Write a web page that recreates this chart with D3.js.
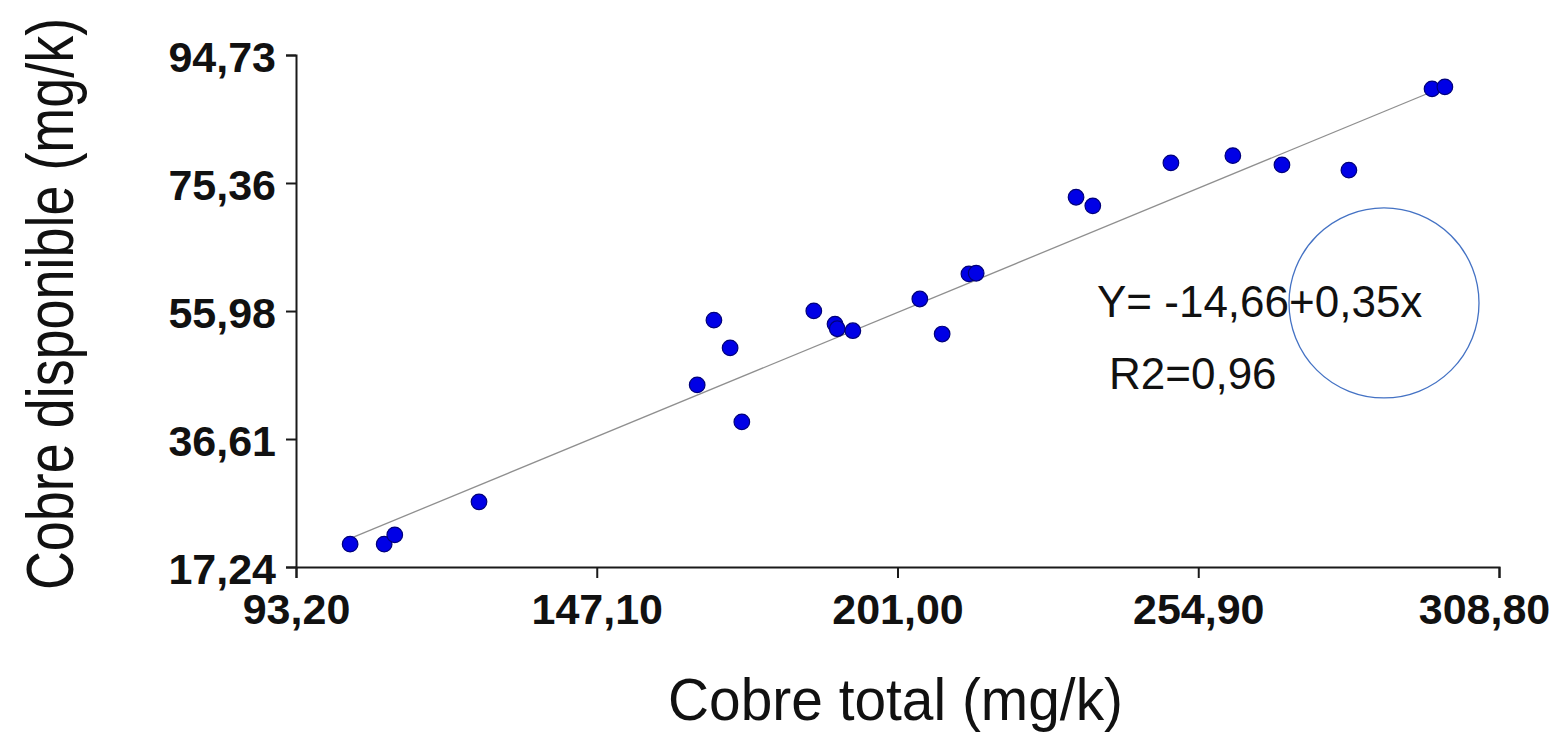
<!DOCTYPE html>
<html>
<head>
<meta charset="utf-8">
<script src="https://cdn.jsdelivr.net/npm/d3@7"></script>
<style>
  html, body { margin: 0; padding: 0; background: #fff; }
  svg { display: block; font-family: "Liberation Sans", Arial, Helvetica, sans-serif; }
</style>
</head>
<body>
<svg id="chart" width="1563" height="735"></svg>
<script>
// ---- data ----
const cobreTotal = [102.9, 109.0, 110.9, 126.0, 165.1, 168.1, 171.0, 173.1, 186.0, 189.8, 190.2, 193.0,
                    205.0, 209.0, 213.8, 215.1, 233.0, 236.0, 250.0, 261.1, 269.9, 281.9, 296.8, 299.1];
const cobreDisponible = [20.7, 20.7, 22.1, 27.1, 44.8, 54.6, 50.4, 39.2, 56.0, 54.0, 53.3, 53.0,
                         57.8, 52.5, 61.6, 61.7, 73.2, 71.9, 78.4, 79.5, 78.1, 77.3, 89.6, 89.9];
const xTickValues = [93.20, 147.10, 201.00, 254.90, 308.80];
const xTickLabels = ["93,20", "147,10", "201,00", "254,90", "308,80"];
const yTickValues = [17.24, 36.61, 55.98, 75.36, 94.73];
const yTickLabels = ["17,24", "36,61", "55,98", "75,36", "94,73"];
const trendX = [103.6, 298.3];
const trendY = [21.8, 89.7];
const equationText = "Y= -14,66+0,35x";
const r2Text = "R2=0,96";
const xTitle = "Cobre total (mg/k)";
const yTitle = "Cobre disponible (mg/k)";

// ---- layout ----
const svg = d3.select("#chart");
const x = d3.scaleLinear().domain([93.20, 308.80]).range([296, 1499]);
const y = d3.scaleLinear().domain([17.24, 94.73]).range([567, 55]);

// axes
const xAxis = d3.axisBottom(x)
  .tickValues(xTickValues)
  .tickFormat((d, i) => xTickLabels[i])
  .tickSize(11).tickSizeOuter(11).tickPadding(15);
const yAxis = d3.axisLeft(y)
  .tickValues(yTickValues)
  .tickFormat((d, i) => yTickLabels[i])
  .tickSize(10).tickSizeOuter(10).tickPadding(10);

const gx = svg.append("g").attr("transform", "translate(0,567)").call(xAxis);
const gy = svg.append("g").attr("transform", "translate(296,0)").call(yAxis);

[gx, gy].forEach(g => {
  g.selectAll("path.domain").attr("stroke", "#1a1a1a").attr("stroke-width", 2);
  g.selectAll(".tick line").attr("stroke", "#1a1a1a").attr("stroke-width", 2);
  g.selectAll(".tick text")
    .attr("fill", "#111")
    .style("font-family", '"Liberation Sans", Arial, sans-serif')
    .style("font-size", "43px")
    .style("font-weight", "bold");
});
gy.selectAll(".tick text").attr("dy", "0.39em");
gx.selectAll(".tick text").attr("dy", "0.71em");
// the last x label is pulled inward so it stays inside the picture
gx.selectAll(".tick text").filter((d, i, n) => i === n.length - 1).attr("dx", -15);

// trend line
svg.append("line")
  .attr("x1", x(trendX[0])).attr("y1", y(trendY[0]))
  .attr("x2", x(trendX[1])).attr("y2", y(trendY[1]))
  .attr("stroke", "#8f8f8f").attr("stroke-width", 1.3);

// points
svg.append("g").selectAll("circle")
  .data(cobreTotal.map((d, i) => [d, cobreDisponible[i]]))
  .join("circle")
  .attr("cx", d => x(d[0]))
  .attr("cy", d => y(d[1]))
  .attr("r", 7.8)
  .attr("fill", "#0000e6")
  .attr("stroke", "#00007a")
  .attr("stroke-width", 1.2);

// annotations
svg.append("text")
  .attr("x", x(93.2 + (1097 - 296) * 215.6 / 1203))
  .attr("y", y(17.24 + (567 - 317) * 77.49 / 512))
  .attr("font-size", 44).attr("fill", "#111")
  .text(equationText);
svg.append("text")
  .attr("x", x(93.2 + (1109 - 296) * 215.6 / 1203))
  .attr("y", y(17.24 + (567 - 389) * 77.49 / 512))
  .attr("font-size", 44).attr("fill", "#111")
  .text(r2Text);

svg.append("circle")
  .attr("cx", x(288.19)).attr("cy", y(57.20))
  .attr("r", 95)
  .attr("fill", "none")
  .attr("stroke", "#4472c4")
  .attr("stroke-width", 1.3);

// axis titles
svg.append("text")
  .attr("x", 895.5).attr("y", 720)
  .attr("text-anchor", "middle")
  .attr("font-size", 60).attr("fill", "#111")
  .attr("textLength", 455).attr("lengthAdjust", "spacingAndGlyphs")
  .text(xTitle);

svg.append("text")
  .attr("transform", "translate(73,304) rotate(-90) scale(0.98,1.2)")
  .attr("text-anchor", "middle")
  .attr("font-size", 55).attr("fill", "#111")
  .text(yTitle);
</script>
</body>
</html>
